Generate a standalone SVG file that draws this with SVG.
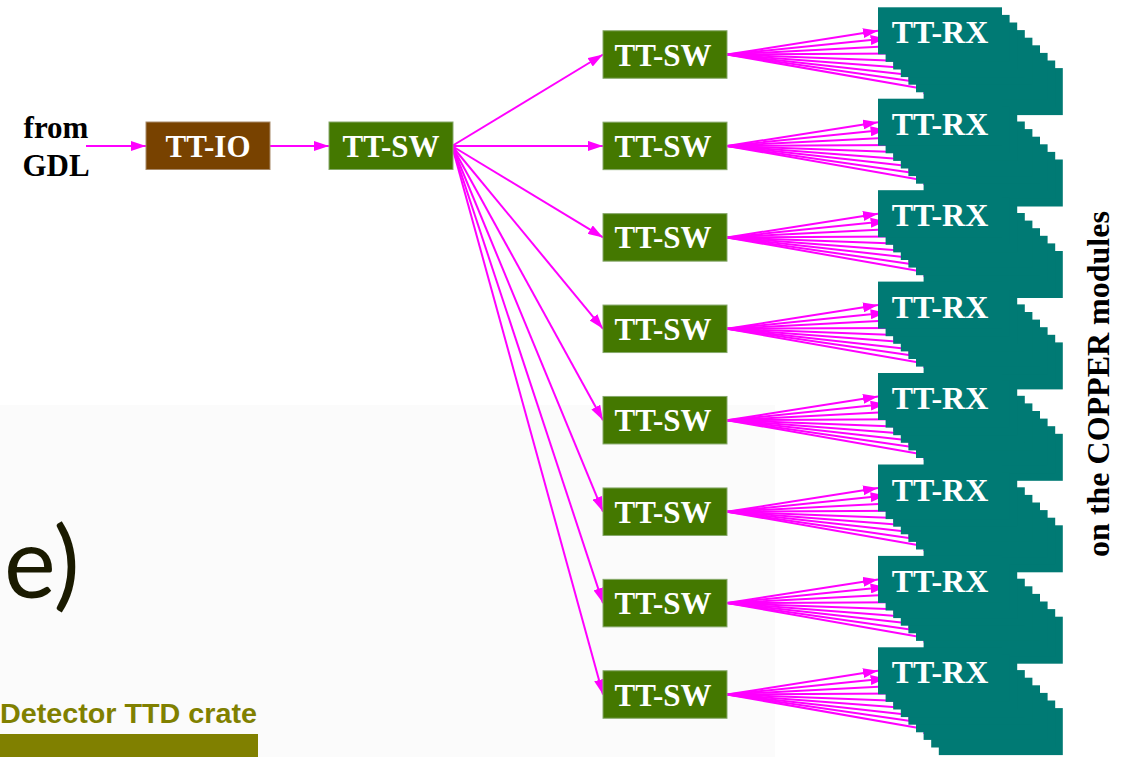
<svg xmlns="http://www.w3.org/2000/svg" xmlns:xlink="http://www.w3.org/1999/xlink" width="1131" height="757" viewBox="0 0 1131 757">
<style>
.lbl{font-family:"Liberation Serif","Times New Roman",serif;font-weight:bold;font-size:31px;fill:#ffffff;text-anchor:middle}
.rxl{font-family:"Liberation Serif","Times New Roman",serif;font-weight:bold;font-size:32px;fill:#ffffff;text-anchor:middle}
.sw{fill:#447800;stroke:#86a86a;stroke-width:1}
.io{fill:#784200;stroke:#a88a6a;stroke-width:1}
.rx{fill:#007a74}
.edge{stroke:#ff00ff;stroke-width:2;fill:none;marker-end:url(#ah)}
.side{font-family:"Liberation Serif","Times New Roman",serif;font-weight:bold;font-size:31px;fill:#000000;text-anchor:middle}
</style>
<defs>
<marker id="ah" markerUnits="userSpaceOnUse" markerWidth="15" markerHeight="10" refX="15" refY="5" orient="auto">
<path d="M0,0 L15,5 L0,10 z" fill="#ff00ff"/>
</marker>
<g id="fan">
<line class="edge" x1="0" y1="0" x2="151" y2="-23.7"/>
<line class="edge" x1="0" y1="0" x2="158.6" y2="-16.1"/>
<line class="edge" x1="0" y1="0" x2="166.2" y2="-8.5"/>
<line class="edge" x1="0" y1="0" x2="173.8" y2="-0.9"/>
<line class="edge" x1="0" y1="0" x2="181.4" y2="6.7"/>
<line class="edge" x1="0" y1="0" x2="189" y2="14.3"/>
<line class="edge" x1="0" y1="0" x2="196.6" y2="21.9"/>
<line class="edge" x1="0" y1="0" x2="204.2" y2="29.5"/>
<line class="edge" x1="0" y1="0" x2="211.8" y2="37.1"/>
</g>
<g id="stack">
<rect class="rx" x="60.8" y="60.8" width="124" height="47"/>
<rect class="rx" x="53.2" y="53.2" width="124" height="47"/>
<rect class="rx" x="45.6" y="45.6" width="124" height="47"/>
<rect class="rx" x="38" y="38" width="124" height="47"/>
<rect class="rx" x="30.4" y="30.4" width="124" height="47"/>
<rect class="rx" x="22.8" y="22.8" width="124" height="47"/>
<rect class="rx" x="15.2" y="15.2" width="124" height="47"/>
<rect class="rx" x="7.6" y="7.6" width="124" height="47"/>
<rect class="rx" x="0" y="0" width="124" height="47"/>
</g>
</defs>
<rect x="0" y="0" width="1131" height="757" fill="#ffffff"/>
<rect x="0" y="405" width="775" height="352" fill="#fbfbfb"/>
<g id="background-slide">
<text x="4" y="598" font-family="Lato,'DejaVu Sans',sans-serif" font-weight="400" font-size="98" fill="#1a1a00">e)</text>
<text x="0" y="723" font-family="'Liberation Sans',Arial,sans-serif" font-weight="bold" font-size="28" fill="#808000" textLength="257" lengthAdjust="spacingAndGlyphs">Detector TTD crate</text>
<rect x="0" y="734" width="258" height="23" fill="#808000"/>
</g>
<g id="connectors">
<line class="edge" x1="86" y1="146" x2="146" y2="146"/>
<line class="edge" x1="270" y1="146" x2="329" y2="146"/>
<line class="edge" x1="452" y1="146" x2="603" y2="54.5"/>
<line class="edge" x1="452" y1="146" x2="603" y2="145.9"/>
<line class="edge" x1="452" y1="146" x2="603" y2="237.4"/>
<line class="edge" x1="452" y1="146" x2="603" y2="328.8"/>
<line class="edge" x1="452" y1="146" x2="603" y2="420.2"/>
<line class="edge" x1="452" y1="146" x2="603" y2="511.7"/>
<line class="edge" x1="452" y1="146" x2="603" y2="603.1"/>
<line class="edge" x1="452" y1="146" x2="603" y2="694.5"/>
<use xlink:href="#fan" x="727" y="54.5"/>
<use xlink:href="#fan" x="727" y="145.9"/>
<use xlink:href="#fan" x="727" y="237.4"/>
<use xlink:href="#fan" x="727" y="328.8"/>
<use xlink:href="#fan" x="727" y="420.2"/>
<use xlink:href="#fan" x="727" y="511.7"/>
<use xlink:href="#fan" x="727" y="603.1"/>
<use xlink:href="#fan" x="727" y="694.5"/>
</g>
<g id="from-gdl">
<text class="side" x="56" y="138">from</text>
<text class="side" x="56" y="176">GDL</text>
</g>
<g id="tt-io"><rect class="io" x="146" y="122" width="124" height="47.5"/><text class="lbl" x="208" y="157">TT-IO</text></g>
<g id="tt-sw-root"><rect class="sw" x="329" y="122" width="124" height="47.5"/><text class="lbl" x="391" y="157">TT-SW</text></g>
<g id="tt-sw-1"><rect class="sw" x="603" y="30.75" width="124" height="47.5"/><text class="lbl" x="663" y="65.5">TT-SW</text></g>
<g id="tt-sw-2"><rect class="sw" x="603" y="122.15" width="124" height="47.5"/><text class="lbl" x="663" y="156.9">TT-SW</text></g>
<g id="tt-sw-3"><rect class="sw" x="603" y="213.65" width="124" height="47.5"/><text class="lbl" x="663" y="248.4">TT-SW</text></g>
<g id="tt-sw-4"><rect class="sw" x="603" y="305.05" width="124" height="47.5"/><text class="lbl" x="663" y="339.8">TT-SW</text></g>
<g id="tt-sw-5"><rect class="sw" x="603" y="396.45" width="124" height="47.5"/><text class="lbl" x="663" y="431.2">TT-SW</text></g>
<g id="tt-sw-6"><rect class="sw" x="603" y="487.95" width="124" height="47.5"/><text class="lbl" x="663" y="522.7">TT-SW</text></g>
<g id="tt-sw-7"><rect class="sw" x="603" y="579.35" width="124" height="47.5"/><text class="lbl" x="663" y="614.1">TT-SW</text></g>
<g id="tt-sw-8"><rect class="sw" x="603" y="670.75" width="124" height="47.5"/><text class="lbl" x="663" y="705.5">TT-SW</text></g>
<g id="tt-rx-1"><use xlink:href="#stack" x="878" y="7.3"/><text class="rxl" x="940" y="43.3">TT-RX</text></g>
<g id="tt-rx-2"><use xlink:href="#stack" x="878" y="98.7"/><text class="rxl" x="940" y="134.7">TT-RX</text></g>
<g id="tt-rx-3"><use xlink:href="#stack" x="878" y="190.2"/><text class="rxl" x="940" y="226.2">TT-RX</text></g>
<g id="tt-rx-4"><use xlink:href="#stack" x="878" y="281.6"/><text class="rxl" x="940" y="317.6">TT-RX</text></g>
<g id="tt-rx-5"><use xlink:href="#stack" x="878" y="373"/><text class="rxl" x="940" y="409">TT-RX</text></g>
<g id="tt-rx-6"><use xlink:href="#stack" x="878" y="464.5"/><text class="rxl" x="940" y="500.5">TT-RX</text></g>
<g id="tt-rx-7"><use xlink:href="#stack" x="878" y="555.9"/><text class="rxl" x="940" y="591.9">TT-RX</text></g>
<g id="tt-rx-8"><use xlink:href="#stack" x="878" y="647.3"/><text class="rxl" x="940" y="683.3">TT-RX</text></g>
<g id="copper-label">
<text x="0" y="0" transform="translate(1109,384) rotate(-90)" font-family="'Liberation Serif','Times New Roman',serif" font-weight="bold" font-size="32" fill="#000000" text-anchor="middle">on the COPPER modules</text>
</g>
</svg>
